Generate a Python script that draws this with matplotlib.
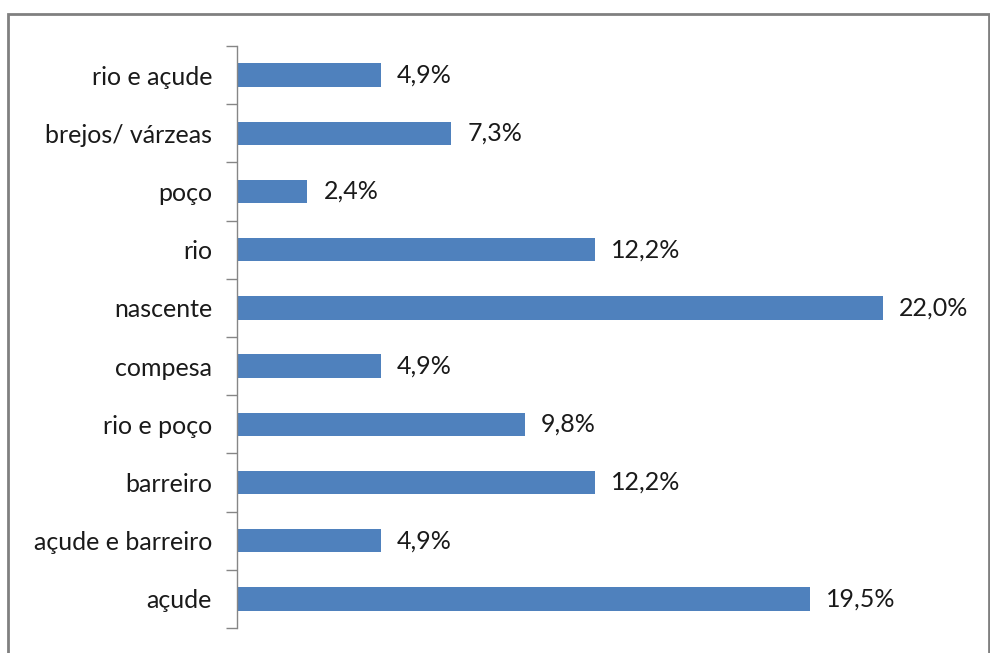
import numpy as np
import matplotlib.pyplot as plt
from matplotlib.patches import Rectangle

# Water sources (top to bottom as shown) and their share in percent
categories = ['rio e açude', 'brejos/ várzeas', 'poço', 'rio', 'nascente',
              'compesa', 'rio e poço', 'barreiro', 'açude e barreiro', 'açude']
values = [4.9, 7.3, 2.4, 12.2, 22.0, 4.9, 9.8, 12.2, 4.9, 19.5]
value_labels = ['4,9%', '7,3%', '2,4%', '12,2%', '22,0%',
                '4,9%', '9,8%', '12,2%', '4,9%', '19,5%']

plt.rcParams['font.family'] = ['Lato', 'DejaVu Sans']

fig = plt.figure(figsize=(9.9, 6.53), dpi=100)
ax = fig.add_axes([0.2394, 0.0383, 0.7414, 0.8913])

y = np.arange(len(categories))[::-1]
ax.barh(y, values, height=0.4, color='#4F81BD')

for yi, v, lab in zip(y, values, value_labels):
    ax.text(v + 0.55, yi, lab, va='center', ha='left', fontsize=18, color='#1a1a1a')

ax.set_xlim(0, 25)
ax.set_ylim(-0.5, len(categories) - 0.5)
ax.set_yticks(y)
ax.set_yticklabels(categories, fontsize=18, color='#1a1a1a')
ax.set_yticks(np.arange(-0.5, len(categories), 1), minor=True)
ax.tick_params(axis='y', which='major', length=0, pad=18)
ax.tick_params(axis='y', which='minor', length=8, width=1, color='#868686', direction='out')
ax.set_xticks([])

for side in ['top', 'right', 'bottom']:
    ax.spines[side].set_visible(False)
ax.spines['left'].set_color('#868686')
ax.spines['left'].set_linewidth(1)

# Chart frame
fig.patches.append(Rectangle((8 / 990, -0.05), 981 / 990, 1.05 - 14 / 653,
                             transform=fig.transFigure, fill=False,
                             edgecolor='#808080', linewidth=2, clip_on=False))

fig.savefig('out.png', dpi=100)
